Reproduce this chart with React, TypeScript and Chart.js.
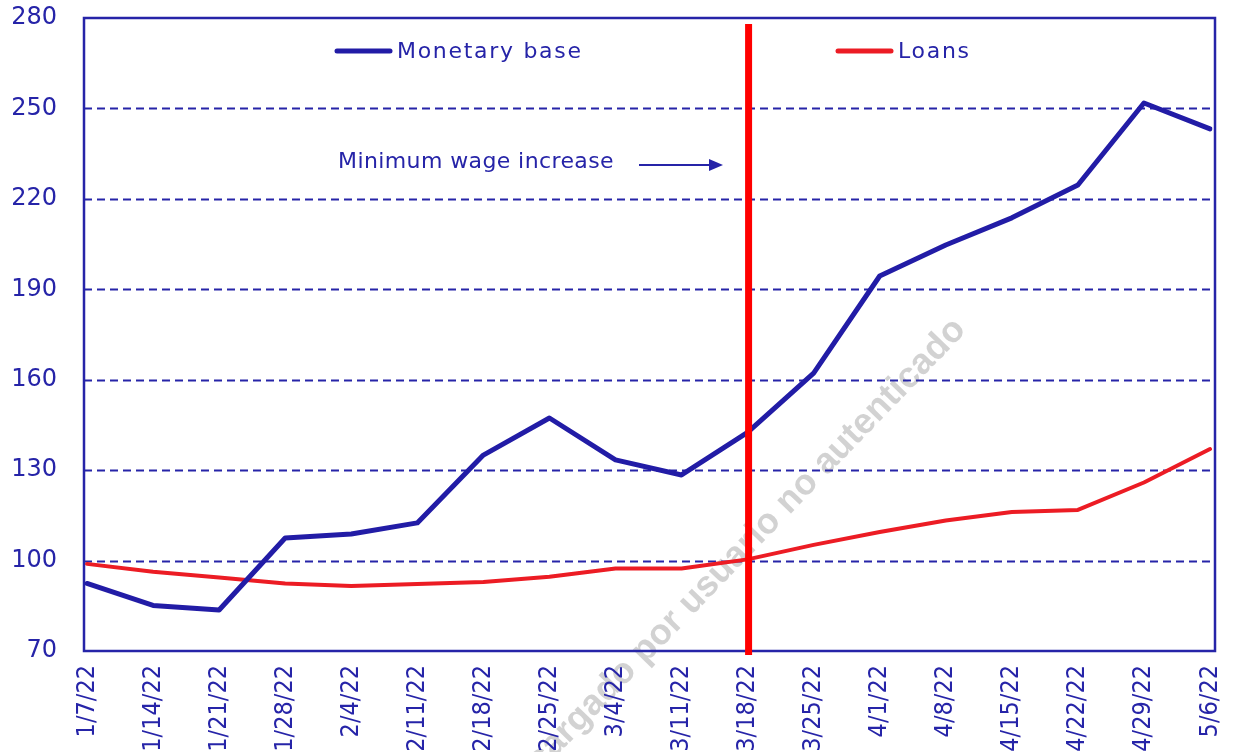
import React, { useEffect, useRef } from "react";
import { Chart, registerables } from "chart.js";

Chart.register(...registerables);

const labels = ["1/7/22", "1/14/22", "1/21/22", "1/28/22", "2/4/22", "2/11/22", "2/18/22", "2/25/22", "3/4/22", "3/11/22", "3/18/22", "3/25/22", "4/1/22", "4/8/22", "4/15/22", "4/22/22", "4/29/22", "5/6/22"];
const monetaryBase = [92.4, 85.1, 83.6, 107.5, 108.8, 112.5, 135.0, 147.3, 133.4, 128.4, 142.5, 162.2, 194.4, 204.7, 213.7, 224.6, 251.8, 243.2];
const loans = [98.9, 96.3, 94.4, 92.4, 91.6, 92.2, 92.9, 94.6, 97.4, 97.4, 100.4, 105.2, 109.5, 113.3, 116.1, 116.8, 125.9, 137.0];
const yTicks = [70, 100, 130, 160, 190, 220, 250, 280];
const eventIndex = 10;
const eventLabel = "Minimum wage increase";
const watermark = "Descargado por usuario no autenticado";

const NAVY = "rgb(38,36,168)";
const BLUE_LINE = "rgb(34,28,166)";
const RED_LINE = "rgb(236,28,36)";
const EVENT_RED = "rgb(255,0,0)";
const TXT_FONT = "'DejaVu Sans', sans-serif";

const decor = {
  id: "decor",
  beforeDraw(chart: any) {
    const ctx = chart.ctx;
    ctx.save();
    ctx.translate(967, 331);
    ctx.rotate((-46 * Math.PI) / 180);
    ctx.font = "bold 36px 'Liberation Sans', Arial, sans-serif";
    ctx.fillStyle = "rgba(195,195,195,0.75)";
    ctx.textAlign = "right";
    ctx.textBaseline = "alphabetic";
    ctx.fillText(watermark, 0, 0);
    ctx.restore();
  },
  beforeDatasetsDraw(chart: any) {
    const ctx = chart.ctx;
    const a = chart.chartArea;
    const y = chart.scales.y;
    const L = a.left - 3;
    const R = a.right + 5;
    ctx.save();
    ctx.strokeStyle = NAVY;
    ctx.lineWidth = 2;
    ctx.setLineDash([8, 5]);
    yTicks.forEach((v) => {
      if (v === yTicks[0] || v === yTicks[yTicks.length - 1]) return;
      const py = Math.round(y.getPixelForValue(v)) + 0.5;
      ctx.beginPath();
      ctx.moveTo(L, py);
      ctx.lineTo(R, py);
      ctx.stroke();
    });
    ctx.setLineDash([]);
    ctx.lineWidth = 2.5;
    ctx.strokeRect(L, a.top, R - L, a.bottom - a.top);
    ctx.restore();
  },
  afterDatasetsDraw(chart: any) {
    const ctx = chart.ctx;
    const a = chart.chartArea;
    const x = chart.scales.x;
    ctx.save();
    const ex = x.getPixelForValue(eventIndex) + 1;
    ctx.strokeStyle = EVENT_RED;
    ctx.lineWidth = 7;
    ctx.beginPath();
    ctx.moveTo(ex, a.top + 6);
    ctx.lineTo(ex, a.bottom + 4);
    ctx.stroke();

    const legendX = [335, 836];
    const legendY = 51;
    ctx.font = `22px ${TXT_FONT}`;
    (ctx as any).letterSpacing = "1.7px";
    ctx.textBaseline = "middle";
    ctx.textAlign = "left";
    chart.data.datasets.forEach((ds: any, i: number) => {
      ctx.strokeStyle = ds.borderColor;
      ctx.lineWidth = 5;
      ctx.lineCap = "round";
      ctx.beginPath();
      ctx.moveTo(legendX[i] + 2, legendY);
      ctx.lineTo(legendX[i] + 55, legendY);
      ctx.stroke();
      ctx.fillStyle = NAVY;
      ctx.fillText(ds.label, legendX[i] + 62, legendY + 1);
    });

    (ctx as any).letterSpacing = "0.4px";
    ctx.fillStyle = NAVY;
    ctx.fillText(eventLabel, 338, 162);
    ctx.strokeStyle = NAVY;
    ctx.lineWidth = 2;
    ctx.lineCap = "butt";
    ctx.beginPath();
    ctx.moveTo(639, 165);
    ctx.lineTo(712, 165);
    ctx.stroke();
    ctx.beginPath();
    ctx.moveTo(723, 165);
    ctx.lineTo(709, 159);
    ctx.lineTo(709, 171);
    ctx.closePath();
    ctx.fill();
    ctx.restore();
  },
};

export default function App() {
  const ref = useRef<HTMLCanvasElement | null>(null);
  useEffect(() => {
    if (!ref.current) return;
    const chart = new Chart(ref.current, {
      type: "line",
      data: {
        labels,
        datasets: [
          {
            label: "Monetary base",
            data: monetaryBase,
            borderColor: BLUE_LINE,
            borderWidth: 5,
            pointRadius: 0,
            tension: 0,
            borderJoinStyle: "round",
            borderCapStyle: "round",
          },
          {
            label: "Loans",
            data: loans,
            borderColor: RED_LINE,
            borderWidth: 4,
            pointRadius: 0,
            tension: 0,
            borderJoinStyle: "round",
            borderCapStyle: "round",
          },
        ],
      },
      options: {
        responsive: false,
        animation: false,
        layout: { padding: { top: 18, right: 28, left: 0, bottom: 0 } },
        plugins: { legend: { display: false }, tooltip: { enabled: false } },
        scales: {
          x: {
            offset: false,
            grid: { display: false, drawTicks: false },
            border: { display: false },
            ticks: {
              color: NAVY,
              minRotation: 90,
              maxRotation: 90,
              autoSkip: false,
              padding: 14,
              font: { family: "'Liberation Sans Narrow', 'DejaVu Sans Condensed', 'Liberation Sans', sans-serif", size: 25 },
            },
            afterFit(scale: any) {
              scale.height = 101;
              scale.paddingLeft = 0;
              scale.paddingRight = 0;
            },
          },
          y: {
            min: 70,
            max: 280,
            grid: { display: false, drawTicks: false },
            border: { display: false },
            afterBuildTicks(scale: any) {
              scale.ticks = yTicks.map((v) => ({ value: v }));
            },
            ticks: {
              color: NAVY,
              padding: 30,
              font: { family: TXT_FONT, size: 24 },
            },
            afterFit(scale: any) {
              scale.width = 87;
              scale.paddingTop = 0;
              scale.paddingBottom = 0;
            },
          },
        },
      },
      plugins: [decor],
    });
    return () => chart.destroy();
  }, []);
  return (
    <div style={{ position: "absolute", left: 0, top: 0, width: 1238, height: 752, background: "#fff" }}>
      <canvas ref={ref} width={1238} height={752} style={{ display: "block" }} />
    </div>
  );
}
